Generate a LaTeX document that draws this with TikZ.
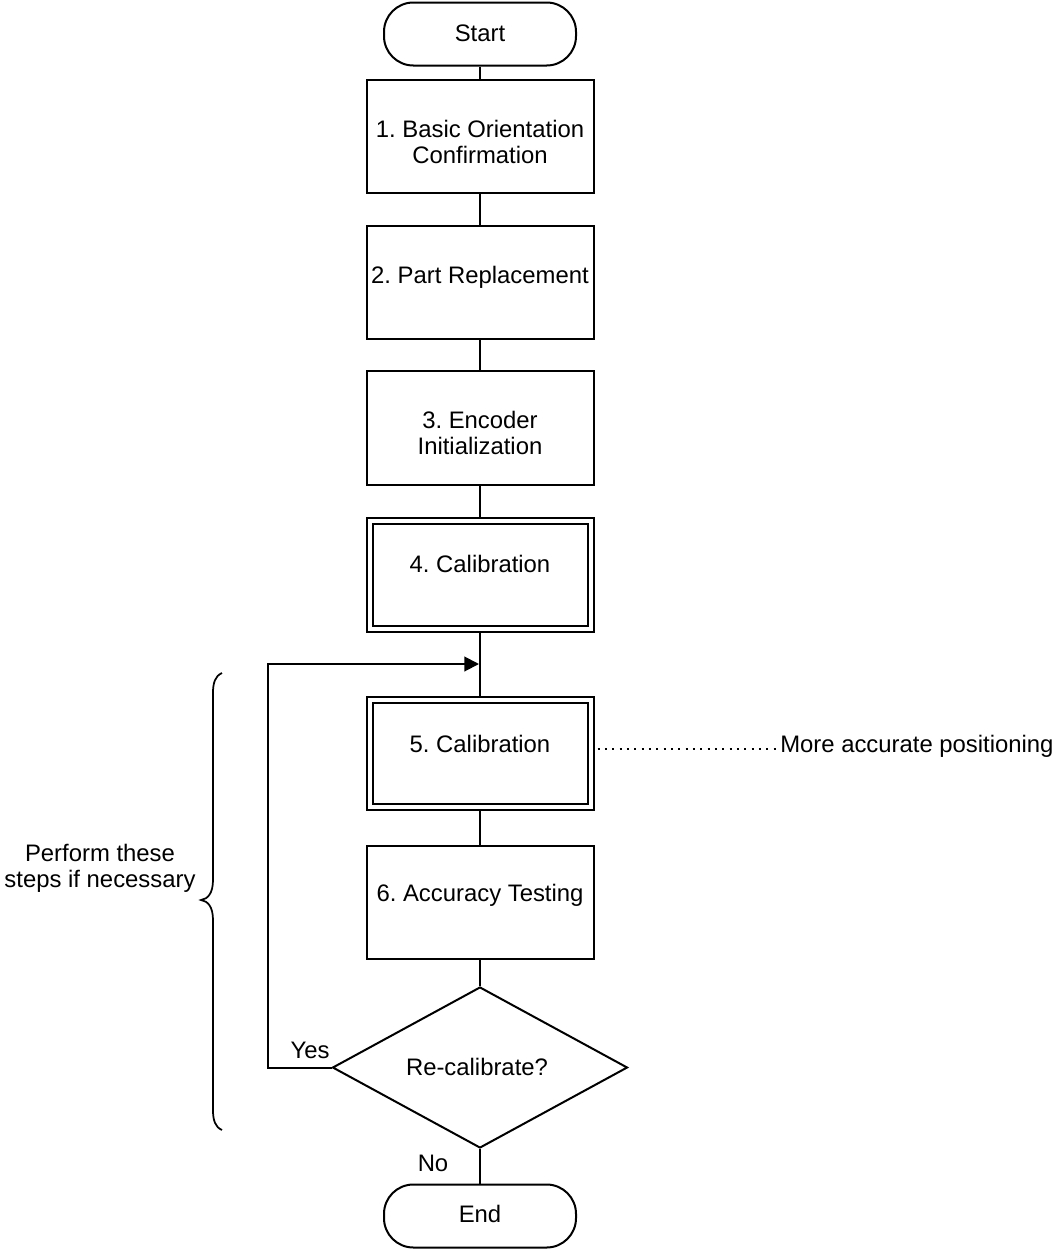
\documentclass[tikz,border=0pt]{standalone}
\usepackage{fontspec}
\setmainfont{Liberation Sans}
\usetikzlibrary{shapes.geometric,arrows.meta}
\frenchspacing
\begin{document}
\begin{tikzpicture}[x=0.75pt,y=-0.75pt,
  every node/.style={font=\fontsize{17.9}{19.5}\selectfont},
  line/.style={line width=1.5pt},
  box/.style={draw,line width=1.5pt,minimum width=170.25pt,minimum height=85.1pt,inner sep=0pt},
  term/.style={draw,line width=1.5pt,rounded corners=22pt,minimum width=144pt,minimum height=47.25pt,inner sep=0pt},
  dec/.style={draw,diamond,line width=1.5pt,minimum width=221.25pt,minimum height=120.75pt,inner sep=0pt},
  lbl/.style={inner sep=0pt,text height=12.8pt,text depth=0pt},
  lbltwo/.style={inner sep=0pt,align=center},
  arr/.style={line width=1.5pt,-{Triangle[length=11pt,width=11pt]}},
  dots/.style={line width=1.5pt,dash pattern=on 1.5pt off 4pt},
  bracestyle/.style={line width=1.3pt}
]
\useasboundingbox (0,0) rectangle (1054,1250);

% shapes
\node[term] (start) at (480,34) {};
\node[box] (b1) at (480,136.5) {};
\node[box] (b2) at (480,282.5) {};
\node[box] (b3) at (480,428) {};
\node[box] (b4) at (480,575) {};
\node[box] (b5) at (480,753.5) {};
\node[box] (b6) at (480,902.5) {};
\node[dec] (dia) at (480,1067.5) {};
\node[term] (end) at (480,1216) {};

% inner borders of double boxes
\draw[line] ([xshift=5.25pt,yshift=-5.25pt]b4.north west) rectangle ([xshift=-5.25pt,yshift=5.25pt]b4.south east);
\draw[line] ([xshift=5.25pt,yshift=-5.25pt]b5.north west) rectangle ([xshift=-5.25pt,yshift=5.25pt]b5.south east);

% texts
\node[lbl] (tstart) at (480,33) {Start};
\node[lbltwo] (t1) at (480,141.5) {1. Basic Orientation\\Confirmation};
\node[lbl] (t2) at (480,275) {2. Part Replacement};
\node[lbltwo] (t3) at (480,433) {3. Encoder\\Initialization};
\node[lbl] (t4) at (480,564) {4. Calibration};
\node[lbl] (t5) at (480,744) {5. Calibration};
\node[lbl] (t6) at (480,893) {6. Accuracy Testing};
\node[lbl] (tdia) at (477,1067) {Re-calibrate?};
\node[lbl] (tend) at (480,1213.5) {End};
\node[lbl] (yes) at (310,1050) {Yes};
\node[lbl] (no) at (433,1163) {No};
\node[lbl,anchor=west] (note) at (780,744) {More accurate positioning};
\node[lbltwo] (side) at (100,868) {Perform these\\steps if necessary};

% connectors
\draw[line] (start) -- (b1);
\draw[line] (b1) -- (b2);
\draw[line] (b2) -- (b3);
\draw[line] (b3) -- (b4);
\draw[line] (b4) -- (b5);
\draw[line] (b5) -- (b6);
\draw[line] (b6) -- (dia);
\draw[line] (dia) -- (end);

\coordinate (lc) at (268,664);
\coordinate (jn) at (479,664);
\draw[arr] (dia.west) -| (lc) -- (jn);

\coordinate (dotc) at (0,749);
\draw[dots] ([xshift=2.25pt]b5.east |- dotc) -- ([xshift=-3pt]note.west |- dotc);

% brace
\draw[bracestyle] (222,673) .. controls (215,676) and (213,683) .. (213,693)
  -- (213,880) .. controls (213,893) and (208,899) .. (201,900)
  .. controls (208,901) and (213,907) .. (213,920)
  -- (213,1110) .. controls (213,1120) and (215,1127) .. (222,1130);
\end{tikzpicture}
\end{document}
